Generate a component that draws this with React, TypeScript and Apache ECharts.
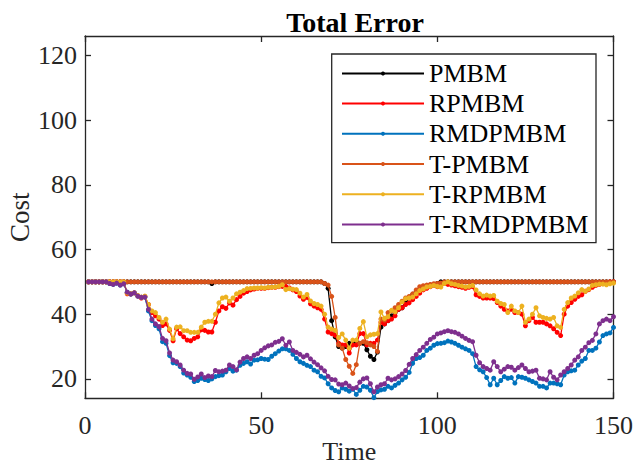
import React, { useEffect, useRef } from "react";
import * as echarts from "echarts";

const FONT = '"Liberation Serif", "Times New Roman", serif';

const seriesNames = ["PMBM", "RPMBM", "RMDPMBM", "T-PMBM", "T-RPMBM", "T-RMDPMBM"];
const seriesColors = ["#000000", "#FF0000", "#0072BD", "#D95319", "#EDB120", "#7E2F8E"];

const xTicks = [0, 50, 100, 150];
const yTicks = [20, 40, 60, 80, 100, 120];

const pmbm = [
  50, 50, 50, 50, 50, 50, 50, 50, 50, 50,
  50, 50, 50, 50, 50, 50, 50, 50, 50, 50,
  50, 50, 50, 50, 50, 50, 50, 50, 50, 50,
  50, 50, 50, 50, 50, 49.5, 50, 50, 50, 50,
  50, 50, 50, 50, 50, 50, 50, 50, 50, 50,
  50, 50, 50, 50, 50, 50, 50, 50, 50, 50,
  50, 50, 50, 50, 50, 50, 50, 49.5, 48, 38,
  33, 30, 29.5, 30, 31, 31, 31.5, 31, 31, 29,
  27, 26, 28.3, 36, 37, 38, 39.5, 40.5, 41.5, 42,
  44, 45, 46, 47, 47.5, 48, 48.5, 49, 49, 49.5,
  50, 50, 50, 50, 50, 50, 50, 50, 50, 50,
  50, 50, 50, 50, 50, 50, 50, 50, 50, 50,
  50, 50, 50, 50, 50, 50, 50, 50, 50, 50,
  50, 50, 50, 50, 50, 50, 50, 50, 50, 50,
  50, 50, 50, 50, 50, 50, 50, 50, 50, 50,
];

const rpmbm = [
  50, 50, 50, 50, 50, 50, 50, 50, 50, 50,
  50, 46.3, 46.3, 46.6, 45.6, 45.0, 45.5, 43.0, 40.5, 39.5,
  38.5, 36.5, 37.0, 35.0, 31.8, 35.5, 34.0, 33.0, 32.0, 31.8,
  32.5, 33.0, 35.2, 35.0, 34.5, 34.5, 37.5, 41.0, 42.3, 41.8,
  43.5, 42.8, 44.5, 45.5, 46.5, 47.0, 47.5, 47.8, 48.0, 48.0,
  48.0, 48.2, 48.3, 48.3, 48.5, 48.6, 48.6, 48.1, 47.5, 47.0,
  45.6, 44.6, 45.2, 43.2, 42.5, 42.0, 41.5, 38.5, 34.5, 34.0,
  33.5, 31.0, 30.5, 30.5, 28.0, 30.5, 30.5, 34.0, 34.0, 30.5,
  31.0, 31.0, 32.0, 37.5, 37.0, 38.0, 38.5, 39.5, 41.5, 42.0,
  43.0, 43.5, 44.5, 45.5, 46.5, 47.5, 48.0, 48.5, 49.0, 48.5,
  49.5, 49.5, 49.2, 49.0, 48.8, 48.5, 48.3, 48.0, 48.3, 48.5,
  46.0, 45.5, 45.0, 45.0, 45.0, 44.8, 43.6, 42.5, 41.5, 41.0,
  41.5, 40.5, 40.5, 40.0, 36.4, 38.0, 39.0, 37.5, 37.5, 37.5,
  37.0, 36.4, 35.5, 34.4, 33.4, 40.0, 42.5, 43.6, 44.6, 45.5,
  46.0, 47.1, 47.6, 48.3, 48.9, 49.2, 49.5, 49.8, 50.0, 50.0,
];

const rmdpmbm = [
  50, 50, 50, 50, 50, 50, 49.5, 49.2, 49.6, 49.0,
  49.4, 46.8, 46.2, 46.6, 45.6, 45.2, 45.3, 41.0, 38.0, 36.5,
  35.5, 31.5, 31.0, 27.2, 25.0, 24.8, 23.8, 21.8, 21.2, 20.5,
  19.2, 19.5, 20.2, 19.8, 19.5, 20.0, 20.7, 21.0, 21.2, 22.2,
  23.2, 22.4, 22.7, 24.2, 24.8, 25.3, 24.6, 25.8, 25.9, 26.3,
  26.1, 26.0, 27.0, 27.8, 28.6, 29.3, 29.3, 28.8, 27.6, 26.3,
  25.3, 24.8, 24.2, 23.8, 22.7, 22.2, 20.8, 20.3, 18.5, 17.2,
  16.4, 16.0, 17.2, 16.8, 16.2, 16.8, 15.2, 16.5, 17.7, 17.5,
  16.5, 14.2, 16.1, 16.6, 16.8, 17.7, 17.2, 18.0, 18.7, 19.7,
  20.5, 22.0, 24.8, 26.3, 26.6, 27.3, 28.8, 29.5, 30.4, 30.9,
  31.0, 31.2, 31.7, 31.4, 31.0, 30.4, 29.8, 29.3, 28.8, 27.8,
  23.8, 22.8, 22.2, 20.4, 18.2, 20.2, 18.2, 19.5, 20.7, 20.2,
  20.4, 18.7, 20.7, 20.5, 20.2, 19.7, 19.2, 18.7, 17.7, 17.7,
  17.2, 18.7, 18.7, 18.5, 18.2, 21.2, 22.2, 22.5, 22.7, 24.3,
  25.5, 26.3, 28.8, 28.8, 29.5, 31.4, 33.4, 33.9, 34.2, 35.9,
];

const tPmbm = [
  50, 50, 50, 50, 50, 50, 50, 50, 50, 50,
  50, 50, 50, 50, 50, 50, 50, 50, 50, 50,
  50, 50, 50, 50, 50, 50, 50, 50, 50, 50,
  50, 50, 50, 50, 50, 50, 50, 50, 50, 50,
  50, 50, 50, 50, 50, 50, 50, 50, 50, 50,
  50, 50, 50, 50, 50, 50, 50, 50, 50, 50,
  50, 50, 50, 50, 50, 50, 50, 49.5, 49, 45.5,
  39, 30.5, 29.5, 26, 23.9, 21.7, 24.4, 31, 31.5, 31.2,
  30.5, 30, 28.5, 38.5, 38.2, 40.5, 41, 42, 43, 44,
  45, 45.5, 46.3, 47.5, 48.5, 48.8, 49, 49.2, 49.4, 49.5,
  49.6, 50, 50, 50, 50, 50, 50, 50, 50, 50,
  50, 50, 50, 50, 50, 50, 50, 50, 50, 50,
  50, 50, 50, 50, 50, 50, 50, 50, 50, 50,
  50, 50, 50, 50, 50, 50, 50, 50, 50, 50,
  50, 50, 50, 50, 50, 50, 50, 50, 50, 50,
];

const tRpmbm = [
  50, 50, 50, 50, 50, 50, 50, 50, 50, 50,
  50, 46.5, 46.3, 46.6, 45.8, 45.3, 45.6, 43.0, 41.0, 40.5,
  39.0, 37.5, 38.5, 35.4, 32.4, 36.0, 36.1, 34.9, 34.9, 34.4,
  34.4, 34.4, 36.0, 37.5, 37.8, 37.8, 40.0, 43.5, 45.0, 45.3,
  44.0, 45.0, 46.3, 46.8, 47.3, 47.9, 48.0, 48.1, 48.1, 48.2,
  48.1, 48.3, 48.3, 48.4, 48.6, 49.1, 47.6, 47.9, 47.7, 47.6,
  46.5, 45.3, 46.1, 44.1, 43.3, 43.0, 42.5, 40.0, 36.0, 35.4,
  35.0, 32.8, 33.9, 32.0, 29.5, 32.0, 32.0, 35.6, 37.7, 33.0,
  33.6, 33.8, 34.0, 40.7, 38.7, 39.2, 41.2, 40.7, 42.0, 43.8,
  44.8, 45.0, 45.3, 46.3, 47.3, 47.8, 48.4, 48.6, 48.9, 48.6,
  48.4, 49.5, 50.0, 49.4, 49.2, 48.9, 48.7, 48.4, 48.6, 48.9,
  47.5, 46.3, 45.6, 45.9, 45.6, 45.8, 44.0, 43.3, 43.0, 40.5,
  42.5, 41.0, 40.5, 42.5, 37.5, 38.5, 40.0, 42.0, 39.5, 39.0,
  38.7, 38.5, 39.0, 36.4, 35.9, 41.5, 43.6, 45.0, 45.6, 46.6,
  47.6, 47.1, 47.8, 48.9, 49.1, 49.3, 49.3, 49.1, 49.4, 49.6,
];

const tRmdpmbm = [
  50, 50, 50, 50, 50, 50, 49.5, 49.2, 49.6, 49.0,
  49.4, 46.8, 46.2, 46.6, 45.6, 45.2, 45.3, 41.5, 38.5, 37.0,
  36.2, 32.5, 31.8, 28.0, 25.8, 25.3, 24.3, 22.7, 21.7, 21.5,
  19.9, 20.6, 21.5, 20.4, 20.9, 20.7, 22.6, 22.2, 22.4, 22.7,
  24.3, 23.8, 22.8, 25.2, 26.3, 26.8, 26.3, 27.3, 27.8, 28.8,
  29.6, 30.2, 30.5, 31.3, 31.6, 32.4, 30.4, 31.4, 28.8, 28.2,
  27.6, 26.8, 27.3, 26.2, 25.2, 24.4, 23.4, 22.5, 20.8, 19.8,
  19.7, 18.4, 18.2, 18.7, 17.8, 17.0, 17.3, 19.0, 20.0, 20.3,
  18.5, 16.0, 17.5, 18.2, 18.5, 20.2, 19.7, 20.0, 20.7, 21.5,
  22.6, 24.5, 26.3, 27.5, 28.8, 29.8, 31.0, 32.2, 32.9, 33.9,
  34.2, 34.6, 34.9, 34.6, 34.4, 33.9, 33.2, 32.5, 31.9, 31.5,
  27.3, 25.0, 23.8, 23.2, 22.7, 25.3, 23.8, 22.2, 23.0, 23.8,
  23.6, 22.7, 23.5, 24.3, 23.2, 22.2, 22.4, 22.7, 20.2, 20.0,
  19.7, 22.2, 20.5, 19.7, 21.2, 22.2, 23.2, 24.3, 25.8, 26.8,
  28.8, 29.8, 31.2, 31.9, 33.9, 37.0, 38.0, 38.5, 38.0, 39.2,
];

const seriesValues = [pmbm, rpmbm, rmdpmbm, tPmbm, tRpmbm, tRmdpmbm];

const AXIS_COLOR = "#262626";

export default function App() {
  const ref = useRef<HTMLDivElement>(null);

  useEffect(() => {
    if (!ref.current) return;
    const chart = echarts.init(ref.current, undefined, { renderer: "svg" });

    const axisCommon = {
      type: "value" as const,
      axisLine: { show: true, onZero: false, lineStyle: { color: AXIS_COLOR, width: 1.3 } },
      axisTick: { show: true, inside: true, length: 6, lineStyle: { color: AXIS_COLOR, width: 1.3 } },
      splitLine: { show: false },
    };

    const option: any = {
      animation: false,
      backgroundColor: "#ffffff",
      title: {
        text: "Total Error",
        left: 350,
        textAlign: "center",
        top: 3,
        textStyle: { fontFamily: FONT, fontSize: 28, fontWeight: "bold", color: "#000000" },
      },
      grid: {
        left: 85,
        right: 20.5,
        top: 36,
        bottom: 66.7,
        containLabel: false,
        outerBoundsMode: "none",
      },
      xAxis: [
        {
          ...axisCommon,
          position: "bottom",
          min: 0,
          max: 150,
          interval: 50,
          axisLabel: { show: true, fontFamily: FONT, fontSize: 26, color: AXIS_COLOR, margin: 14, customValues: xTicks },
          axisTick: { ...axisCommon.axisTick, customValues: xTicks },
          name: "Time",
          nameLocation: "middle",
          nameGap: 40,
          nameMoveOverlap: false,
          nameTextStyle: { fontFamily: FONT, fontSize: 26, color: AXIS_COLOR },
        },
        {
          ...axisCommon,
          position: "top",
          min: 0,
          max: 150,
          interval: 50,
          axisLabel: { show: false },
          axisTick: { ...axisCommon.axisTick, customValues: xTicks },
        },
      ],
      yAxis: [
        {
          ...axisCommon,
          position: "left",
          min: 14,
          max: 126,
          axisLabel: {
            show: true,
            fontFamily: FONT,
            fontSize: 26,
            color: AXIS_COLOR,
            margin: 8,
            customValues: yTicks,
            formatter: (v: number) => (v % 20 === 0 ? String(v) : ""),
          },
          axisTick: { ...axisCommon.axisTick, customValues: yTicks },
          name: "Cost",
          nameLocation: "middle",
          nameGap: 52,
          nameMoveOverlap: false,
          nameTextStyle: { fontFamily: FONT, fontSize: 27, color: AXIS_COLOR },
        },
        {
          ...axisCommon,
          position: "right",
          min: 14,
          max: 126,
          axisLabel: { show: false },
          axisTick: { ...axisCommon.axisTick, customValues: yTicks },
        },
      ],
      legend: {
        orient: "vertical",
        left: 341,
        top: 58.3,
        padding: 0,
        itemGap: 0,
        itemWidth: 82,
        itemHeight: 5,
        data: seriesNames,
        textStyle: { fontFamily: FONT, fontSize: 26, lineHeight: 30.2, color: "#000000" },
        z: 10,
      },
      graphic: [
        {
          type: "rect",
          z: 5,
          shape: { x: 331.7, y: 54, width: 264.3, height: 188.7 },
          style: { fill: "#ffffff", stroke: AXIS_COLOR, lineWidth: 1.3 },
        },
      ],
      series: seriesNames.map((name, si) => ({
        name,
        type: "line",
        data: seriesValues[si].map((v, i) => [i + 1, v]),
        symbol: "circle",
        symbolSize: 5,
        showSymbol: true,
        showAllSymbol: true,
        lineStyle: { width: 1.3, color: seriesColors[si] },
        itemStyle: { color: seriesColors[si] },
        emphasis: { disabled: true },
        z: 2 + si * 0.01,
      })),
    };

    chart.setOption(option);
    return () => chart.dispose();
  }, []);

  return (
    <div
      ref={ref}
      style={{ position: "fixed", left: 0, top: 0, width: 634, height: 465, background: "#fff" }}
    />
  );
}
